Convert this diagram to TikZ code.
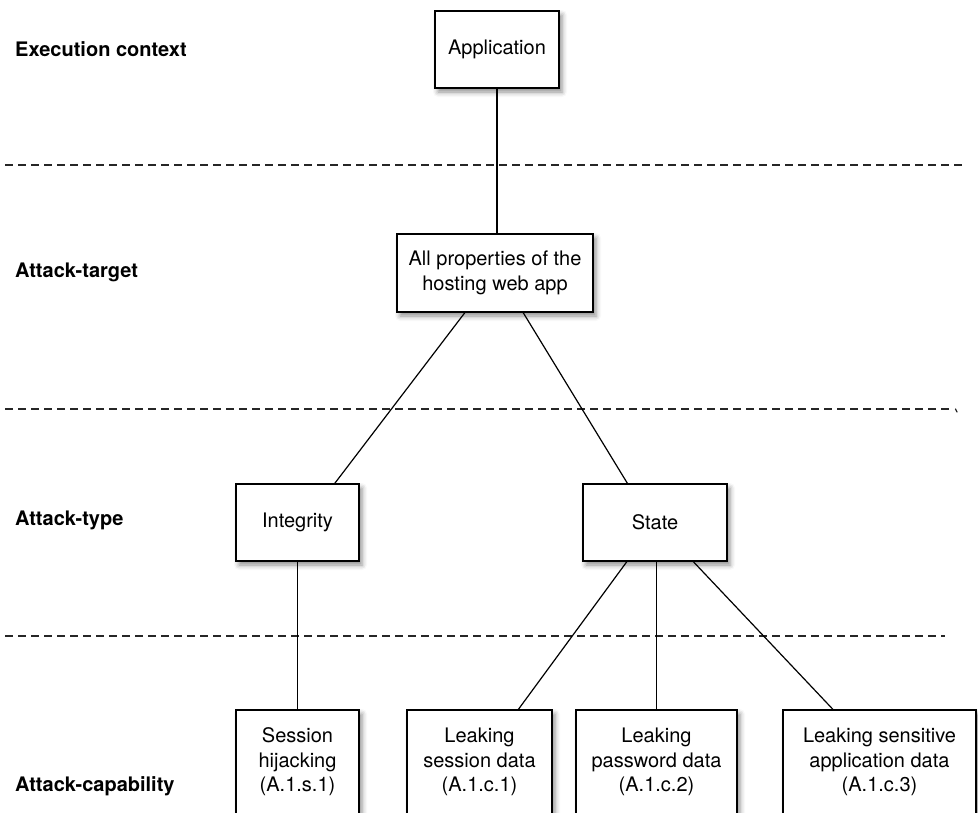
\documentclass[tikz,border=0pt]{standalone}
\usepackage{fontspec}
\setmainfont{TeX Gyre Heros}
\usetikzlibrary{calc,shadows.blur}

\tikzset{
  box/.style={draw=black, line width=1.5pt, fill=white, align=center,
    font=\fontsize{20}{24.5}\selectfont, inner sep=0pt,
    blur shadow={shadow xshift=3pt, shadow yshift=-4pt,
      shadow blur radius=5pt, shadow opacity=45}},
  layer/.style={font=\bfseries\fontsize{20}{24}\selectfont, anchor=west, inner sep=0pt},
  separator/.style={dash pattern=on 8pt off 5pt, line width=1.4pt, black!85},
  link/.style={line width=1.2pt}
}

\begin{document}
\begin{tikzpicture}[x=1pt, y=-1pt]
  \useasboundingbox (0,0) rectangle (978,812);
  \clip (0,0) rectangle (978,812);

  % layer separators
  \coordinate (s1a) at (5,165);   \coordinate (s1b) at (962,165);
  \coordinate (s2a) at (5,409);   \coordinate (s2b) at (953,409);
  \coordinate (s3a) at (5,636);   \coordinate (s3b) at (945,636);
  \draw[separator] (s1a) -- (s1b);
  \draw[separator] (s2a) -- (s2b);
  \draw[separator] (s3a) -- (s3b);
  % little hook closing the middle separator
  \coordinate (s2c) at (955.5,409);  \coordinate (s2d) at (957,412);
  \draw[line width=1.2pt, black!85, line cap=round] (s2c) -- (s2d);

  % layer names
  \node[layer] (lexec) at (15,49.5) {Execution context};
  \node[layer] (ltarget) at (15,272) {Attack-target};
  \node[layer] (ltype) at (15,520) {Attack-type};
  \node[layer] (lcap) at (15,786) {Attack-capability};

  % tree nodes
  \node[box, minimum width=124pt, minimum height=77pt] (app) at (497,49.5) {Application};
  \node[box, minimum width=196pt, minimum height=78pt] (props) at (495,273)
    {All properties of the\\hosting web app};
  \node[box, minimum width=123pt, minimum height=77pt] (integ) at (297.5,522.5) {Integrity};
  \node[box, minimum width=144pt, minimum height=77pt] (state) at (655,522.5) {State};

  \node[box, minimum width=123pt, minimum height=104pt] (sess) at (297.5,762)
    {Session\\hijacking\\(A.1.s.1)};
  \node[box, minimum width=145pt, minimum height=104pt] (leak1) at (479.5,762)
    {Leaking\\session data\\(A.1.c.1)};
  \node[box, minimum width=161pt, minimum height=104pt] (leak2) at (656.5,762)
    {Leaking\\password data\\(A.1.c.2)};
  \node[box, minimum width=193pt, minimum height=104pt] (leak3) at (879.5,762)
    {Leaking sensitive\\application data\\(A.1.c.3)};

  % connectors
  \draw[link] (app.south) -- (app.south |- props.north);
  \draw[link] ($(props.south west)!0.347!(props.south east)$)
           -- ($(integ.north west)!0.80!(integ.north east)$);
  \draw[link] ($(props.south west)!0.643!(props.south east)$)
           -- ($(state.north west)!0.31!(state.north east)$);
  \draw[link] (integ.south) -- (sess.north);
  \draw[link] ($(state.south west)!0.306!(state.south east)$)
           -- ($(leak1.north west)!0.766!(leak1.north east)$);
  \draw[link] (state.south -| leak2.north) -- (leak2.north);
  \draw[link] ($(state.south west)!0.764!(state.south east)$)
           -- ($(leak3.north west)!0.26!(leak3.north east)$);
\end{tikzpicture}
\end{document}
